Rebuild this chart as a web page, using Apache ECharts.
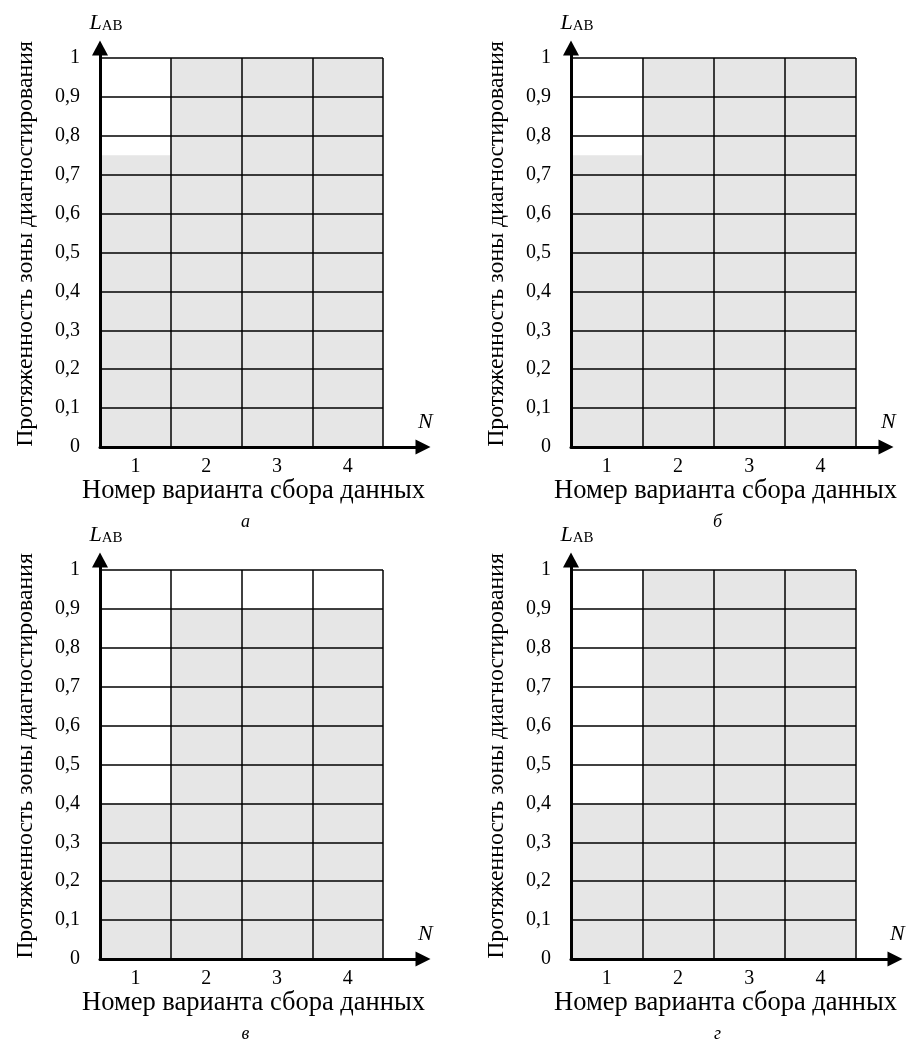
<!DOCTYPE html>
<html>
<head>
<meta charset="utf-8">
<script src="https://cdn.jsdelivr.net/npm/echarts@6/dist/echarts.min.js"></script>
<style>
html,body{margin:0;padding:0;background:#fff;}
#chart{width:909px;height:1039px;}
</style>
</head>
<body>
<div id="chart"></div>
<script>
// ---- data ----
const categories = ['1', '2', '3', '4'];
const valuesA = [0.75, 1, 1, 1];
const valuesB = [0.75, 1, 1, 1];
const valuesV = [0.4, 0.9, 0.9, 0.9];
const valuesG = [0.4, 1, 1, 1];
const yTickLabels = ['0', '0,1', '0,2', '0,3', '0,4', '0,5', '0,6', '0,7', '0,8', '0,9', '1'];
const panelLabels = ['а', 'б', 'в', 'г'];
const xAxisTitle = 'Номер варианта сбора данных';
const yAxisTitle = 'Протяженность зоны диагностирования';
const yAxisSymbol = ['L', 'AB'];
const xAxisSymbol = 'N';

// ---- layout ----
const FONT = "'Liberation Serif', 'Times New Roman', serif";
const panelValues = [valuesA, valuesB, valuesV, valuesG];
const layout = [
  { left: 100, top: 58, width: 283, ext: 40 },
  { left: 571, top: 58, width: 285, ext: 30 },
  { left: 100, top: 570, width: 283, ext: 40 },
  { left: 571, top: 570, width: 285, ext: 39 }
];
const H = 389;

const grid = [], xAxis = [], yAxis = [], series = [], title = [];
layout.forEach((p, i) => {
  // data grid
  grid.push({ left: p.left, top: p.top, width: p.width, height: H, containLabel: false });
  xAxis.push({
    type: 'category', gridIndex: 2 * i, data: categories, z: 5,
    axisLine: { show: false }, axisTick: { show: false },
    axisLabel: { fontFamily: FONT, fontSize: 20, color: '#000', margin: 10 },
    splitLine: { show: true, interval: 0, lineStyle: { color: '#000', width: 1.5 } },
    name: xAxisTitle, nameLocation: 'middle', nameGap: 29,
    nameTextStyle: { fontFamily: FONT, fontSize: 26.5, color: '#000', padding: [0, 0, 0, 24] }
  });
  yAxis.push({
    type: 'value', gridIndex: 2 * i, min: 0, max: 1, interval: 0.1, z: 5,
    axisLine: { show: false }, axisTick: { show: false },
    axisLabel: { fontFamily: FONT, fontSize: 20, color: '#000', margin: 20,
      formatter: v => yTickLabels[Math.round(v * 10)] },
    splitLine: { show: true, lineStyle: { color: '#000', width: 1.5 } },
    name: yAxisTitle, nameLocation: 'middle', nameGap: 62, nameRotate: 90,
    nameTextStyle: { fontFamily: FONT, fontSize: 23.8, color: '#000', padding: [0, 0, 0, 17] }
  });
  series.push({
    type: 'bar', xAxisIndex: 2 * i, yAxisIndex: 2 * i,
    data: panelValues[i], barCategoryGap: '0%', barGap: '0%',
    itemStyle: { color: '#e6e6e6' }, silent: true, z: 2
  });
  // arrow axes grid
  grid.push({ left: p.left, top: p.top - 10, width: p.width + p.ext, height: H + 10 });
  xAxis.push({
    type: 'value', gridIndex: 2 * i + 1, min: 0, max: 1, z: 6,
    axisLine: { show: true, onZero: false, symbol: ['none', 'triangle'], symbolSize: [15, 15],
      lineStyle: { color: '#000', width: 3 } },
    axisTick: { show: false }, axisLabel: { show: false }, splitLine: { show: false },
    name: xAxisSymbol, nameLocation: 'end', nameGap: -5,
    nameTextStyle: { fontFamily: FONT, fontSize: 22, fontStyle: 'italic', color: '#000',
      verticalAlign: 'bottom', align: 'left', padding: [0, 0, 14, 0] }
  });
  yAxis.push({
    type: 'value', gridIndex: 2 * i + 1, min: 0, max: 1, z: 6,
    axisLine: { show: true, onZero: false, symbol: ['none', 'triangle'], symbolSize: [16, 15],
      lineStyle: { color: '#000', width: 3 } },
    axisTick: { show: false }, axisLabel: { show: false }, splitLine: { show: false },
    name: '{l|' + yAxisSymbol[0] + '}{s|' + yAxisSymbol[1] + '}', nameLocation: 'end', nameGap: 14,
    nameTextStyle: {
      align: 'center', padding: [0, 0, 0, 12],
      rich: {
        l: { fontFamily: FONT, fontSize: 22, fontStyle: 'italic', color: '#000' },
        s: { fontFamily: FONT, fontSize: 15, color: '#000', verticalAlign: 'bottom', padding: [6, 0, 0, 0] }
      }
    }
  });
  series.push({
    type: 'line', xAxisIndex: 2 * i + 1, yAxisIndex: 2 * i + 1, data: [], silent: true
  });
  title.push({
    text: panelLabels[i], left: p.left + p.width / 2 + 4, top: p.top + H + 66, padding: 0,
    textAlign: 'center',
    textStyle: { fontFamily: FONT, fontSize: 18, fontStyle: 'italic', fontWeight: 'normal', color: '#000' }
  });
});

const chart = echarts.init(document.getElementById('chart'), null, { renderer: 'canvas' });
chart.setOption({
  backgroundColor: '#fff',
  animation: false,
  title, grid, xAxis, yAxis, series
});
</script>
</body>
</html>
